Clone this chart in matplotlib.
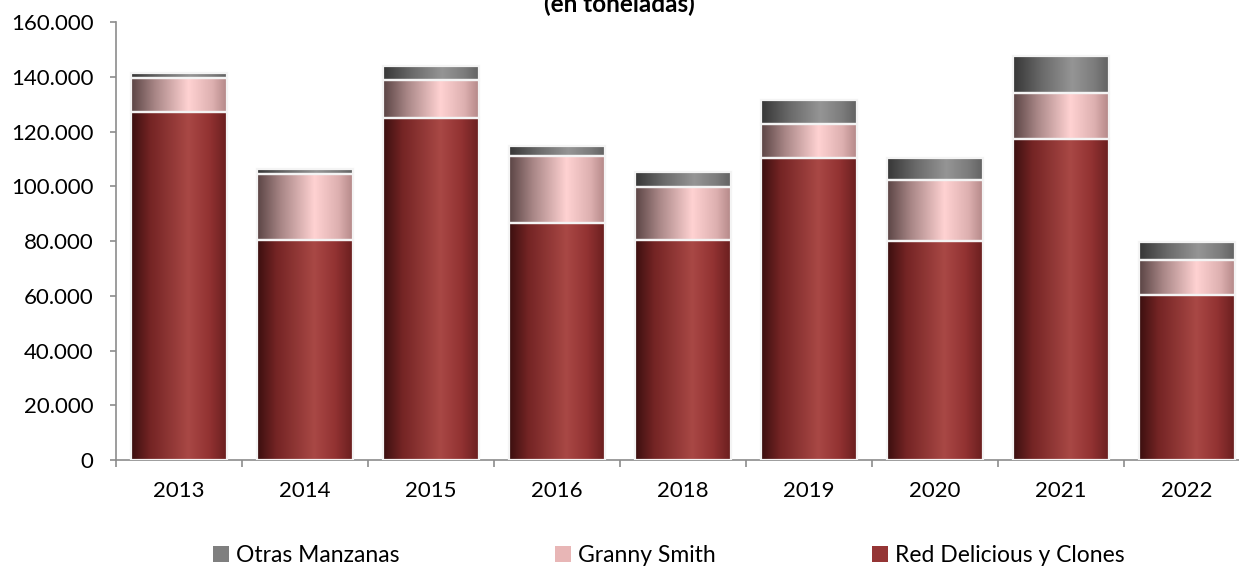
import numpy as np
import matplotlib
matplotlib.use("Agg")
import matplotlib.pyplot as plt
from matplotlib.colors import LinearSegmentedColormap
from matplotlib.patches import Patch
from matplotlib.ticker import FuncFormatter, FixedLocator

plt.rcParams['font.family'] = ['Lato', 'DejaVu Sans']

years = ['2013', '2014', '2015', '2016', '2018', '2019', '2020', '2021', '2022']
red_delicious = [127200, 80400, 124800, 86700, 80300, 110400, 79900, 117300, 60400]
granny_smith = [12200, 24100, 13900, 24400, 19300, 12400, 22500, 16900, 12500]
otras = [1800, 1800, 5300, 3700, 5700, 8700, 8000, 13400, 6800]

# horizontal shading for each series (dark left, light ~60%, darker right)
grad_red = [(0.0, '#3a0f0f'), (0.2, '#742424'), (0.6, '#a94845'), (0.82, '#923232'), (1.0, '#6a1f1f')]
grad_pink = [(0.0, '#5a4444'), (0.25, '#a88686'), (0.6, '#ffd2d2'), (0.85, '#ddb0b0'), (1.0, '#b48888')]
grad_gray = [(0.0, '#363636'), (0.3, '#6a6a6a'), (0.62, '#959595'), (0.85, '#7c7c7c'), (1.0, '#626262')]

fig = plt.figure(figsize=(12.39, 5.73), dpi=100)
ax = fig.add_axes([0.0936, 0.1972, 0.9153, 0.7644])

x = np.arange(len(years))
width = 0.757
grad = np.linspace(0, 1, 256).reshape(1, -1)


def shaded_bars(bottom, values, stops):
    cmap = LinearSegmentedColormap.from_list('g', stops)
    bars = ax.bar(x, values, width, bottom=bottom, facecolor='none',
                  edgecolor='#f4f4f4', linewidth=1.6, zorder=3)
    for b in bars:
        x0, y0 = b.get_x(), b.get_y()
        im = ax.imshow(grad, cmap=cmap, aspect='auto', zorder=2,
                       extent=[x0, x0 + b.get_width(), y0, y0 + b.get_height()])
        im.set_clip_path(b)
    return bars


bottom1 = np.array(red_delicious)
bottom2 = bottom1 + np.array(granny_smith)
shaded_bars(0, red_delicious, grad_red)
shaded_bars(bottom1, granny_smith, grad_pink)
shaded_bars(bottom2, otras, grad_gray)

ax.set_xlim(-0.5, len(years) - 0.5)
ax.set_ylim(0, 160000)
ax.set_yticks(np.arange(0, 160001, 20000))
ax.yaxis.set_major_formatter(FuncFormatter(lambda v, p: f"{int(v):,}".replace(',', '.')))
ax.set_xticks(x)
ax.set_xticklabels(years)
ax.xaxis.set_minor_locator(FixedLocator(np.arange(-0.5, len(years), 1)))

for s in ['top', 'right']:
    ax.spines[s].set_visible(False)
for s in ['left', 'bottom']:
    ax.spines[s].set_color('#8c8c8c')
    ax.spines[s].set_linewidth(1.2)

ax.tick_params(axis='y', length=4, color='#8c8c8c', width=1.2, pad=12, labelsize=16)
ax.tick_params(axis='x', which='major', length=0, pad=15, labelsize=16)
ax.tick_params(axis='x', which='minor', length=5, color='#8c8c8c', width=1.2)

fig.text(0.5, 0.979, '(en toneladas)', ha='center', va='baseline',
         fontsize=17.5, fontweight='bold')

handles = [Patch(facecolor='#7f7f7f', label='Otras Manzanas'),
           Patch(facecolor='#e8b6b6', label='Granny Smith'),
           Patch(facecolor='#953535', label='Red Delicious y Clones')]
fig.legend(handles=handles, loc='center', bbox_to_anchor=(0.5396, 0.03), ncol=3,
           frameon=False, fontsize=16.5, handlelength=0.7, handleheight=0.7,
           handletextpad=0.3, columnspacing=6.8)

fig.savefig('out.png', dpi=100)
